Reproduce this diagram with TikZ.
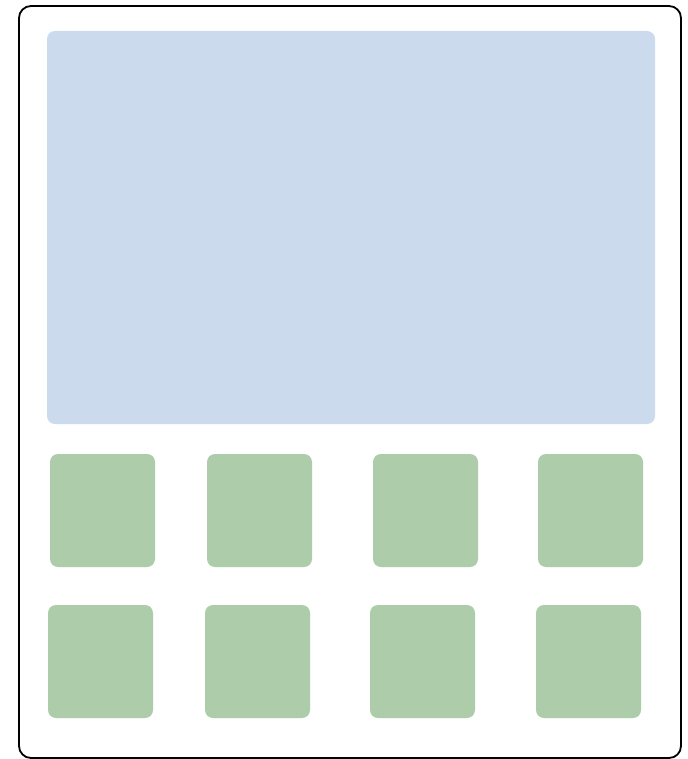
\documentclass[tikz,border=0pt]{standalone}
\usepackage{tikz}
\definecolor{bluefill}{HTML}{CCDAED}
\definecolor{greenfill}{HTML}{ADCDAA}
\tikzset{
  frame/.style={draw=black, line width=1.8pt, rounded corners=12pt},
  screen/.style={fill=bluefill, draw=none, rounded corners=8pt},
  tile/.style={fill=greenfill, draw=none, rounded corners=8pt}
}
\begin{document}
\begin{tikzpicture}[x=1pt,y=-1pt]
\useasboundingbox (0,0) rectangle (687,759);
\fill[white] (0,0) rectangle (687,759);
\draw[frame] (19,6) rectangle (681,758);
\fill[screen] (47,31) rectangle (655,424);
% row 1
\fill[tile] (50,454) rectangle (155,567);
\fill[tile] (207,454) rectangle (312,567);
\fill[tile] (373,454) rectangle (478,567);
\fill[tile] (538,454) rectangle (643,567);
% row 2
\fill[tile] (48,605) rectangle (153,718);
\fill[tile] (205,605) rectangle (310,718);
\fill[tile] (370,605) rectangle (475,718);
\fill[tile] (536,605) rectangle (641,718);
\end{tikzpicture}
\end{document}
